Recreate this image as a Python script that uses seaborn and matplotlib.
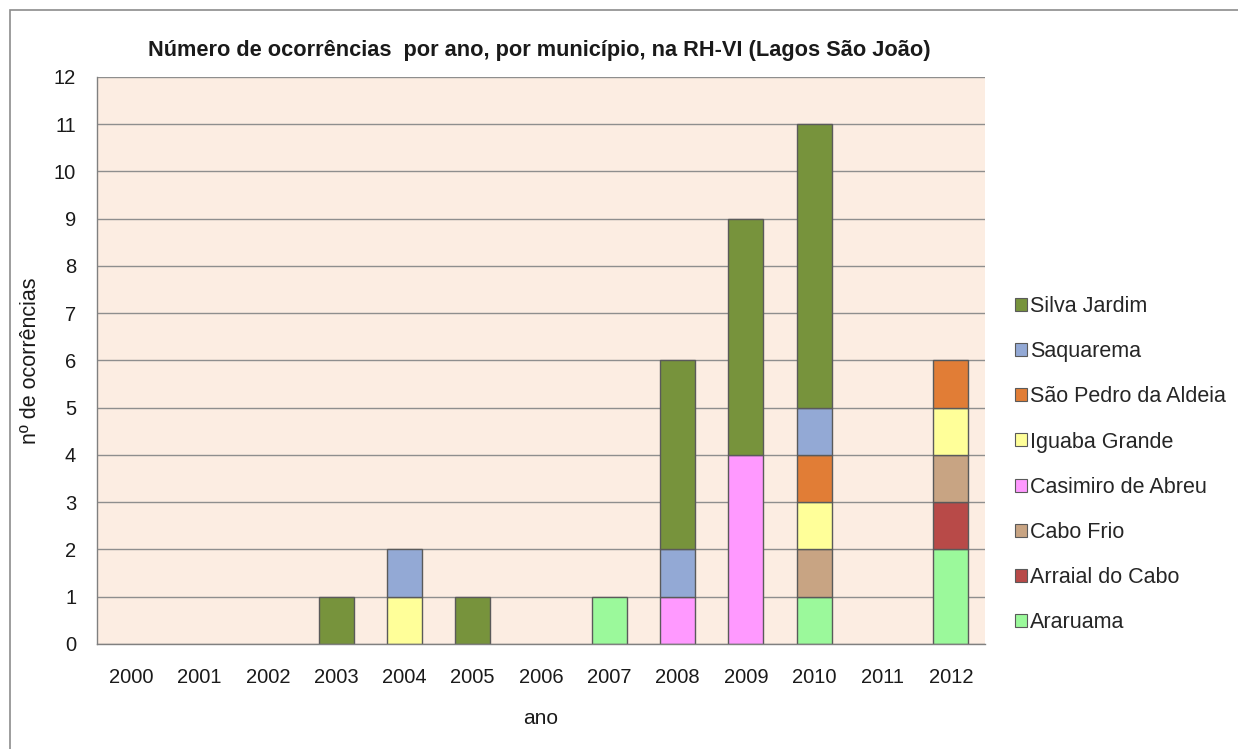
import numpy as np
import pandas as pd
import matplotlib
matplotlib.use("Agg")
import matplotlib.pyplot as plt
from matplotlib.patches import Patch, Rectangle
import seaborn as sns

years = list(range(2000, 2013))
municipios = ["Araruama", "Arraial do Cabo", "Cabo Frio", "Casimiro de Abreu",
              "Iguaba Grande", "São Pedro da Aldeia", "Saquarema", "Silva Jardim"]
colors = ["#9BF99B", "#B84A48", "#C8A483", "#FF99FF",
          "#FFFF99", "#E17D36", "#93A9D5", "#77933C"]

# counts per municipality per year (2000..2012)
araruama   = [0, 0, 0, 0, 0, 0, 0, 1, 0, 0, 1, 0, 2]
arraial    = [0, 0, 0, 0, 0, 0, 0, 0, 0, 0, 0, 0, 1]
cabo_frio  = [0, 0, 0, 0, 0, 0, 0, 0, 0, 0, 1, 0, 1]
casimiro   = [0, 0, 0, 0, 0, 0, 0, 0, 1, 4, 0, 0, 0]
iguaba     = [0, 0, 0, 0, 1, 0, 0, 0, 0, 0, 1, 0, 1]
sao_pedro  = [0, 0, 0, 0, 0, 0, 0, 0, 0, 0, 1, 0, 1]
saquarema  = [0, 0, 0, 0, 1, 0, 0, 0, 1, 0, 1, 0, 0]
silva      = [0, 0, 0, 1, 0, 1, 0, 0, 4, 5, 6, 0, 0]

series = [araruama, arraial, cabo_frio, casimiro, iguaba, sao_pedro, saquarema, silva]

rows = []
for m, vals in zip(municipios, series):
    for y, v in zip(years, vals):
        if v > 0:
            rows.append({"ano": y, "municipio": m, "n": v})
df = pd.DataFrame(rows)

sns.set_style("white")
plt.rcParams["font.family"] = ["Liberation Sans", "DejaVu Sans"]

fig = plt.figure(figsize=(12.38, 7.49), dpi=100)
ax = fig.add_axes([0.0784, 0.1402, 0.7172, 0.757])
ax.set_facecolor("#FCEDE2")

# figure border (partly cropped at right/bottom)
fig.patches.append(Rectangle((10 / 1238, -0.05), 1.1, 1 - 10 / 749 + 0.05,
                             transform=fig.transFigure, fill=False,
                             edgecolor="#8C8C8C", linewidth=1.2))

ax.set_axisbelow(True)
ax.yaxis.grid(True, color="#8E8E8E", linewidth=1)

# seaborn stacks the first hue level on top -> reverse so Araruama is at the bottom
sns.histplot(data=df, x="ano", weights="n", hue="municipio",
             hue_order=municipios[::-1], palette=dict(zip(municipios, colors)),
             multiple="stack", discrete=True, shrink=0.51,
             edgecolor="#5A5A5A", linewidth=1, alpha=1, ax=ax, legend=False)
for p in ax.patches:
    if p.get_height() == 0:
        p.set_visible(False)

ax.set_xlim(1999.5, 2012.5)
ax.set_ylim(0, 12)
ax.set_yticks(range(0, 13))
ax.set_xticks(years)
ax.set_xticklabels([str(y) for y in years])
ax.set_xticks(np.arange(1999.5, 2013, 1), minor=True)
ax.tick_params(axis="x", which="major", length=0, pad=17, labelsize=14.5, colors="#1a1a1a")
ax.tick_params(axis="x", which="minor", length=6, width=1, color="#808080", direction="out")
ax.tick_params(axis="y", which="major", length=6, width=1, color="#808080", direction="out",
               labelsize=14.5, pad=9, labelcolor="#1a1a1a")
for s in ["top", "right"]:
    ax.spines[s].set_visible(False)
for s in ["left", "bottom"]:
    ax.spines[s].set_color("#808080")
    ax.spines[s].set_linewidth(1)

ax.set_xlabel("ano", fontsize=15, labelpad=16, color="#1a1a1a")
ax.set_ylabel("nº de ocorrências", fontsize=15.5, labelpad=9, color="#1a1a1a")
fig.text(0.436, 0.932, "Número de ocorrências  por ano, por município, na RH-VI (Lagos São João)",
         ha="center", va="center", fontsize=15.7, fontweight="bold", color="#1a1a1a")

handles = [Patch(facecolor=c, edgecolor="#5A5A5A", linewidth=0.8, label=m)
           for m, c in zip(municipios[::-1], colors[::-1])]
fig.legend(handles=handles, loc="upper left", bbox_to_anchor=(0.813, 0.616),
           frameon=False, fontsize=15.5, handlelength=0.55, handleheight=0.55,
           handletextpad=0.15, labelspacing=1.12, borderaxespad=0)

fig.savefig("out.png", dpi=100)
